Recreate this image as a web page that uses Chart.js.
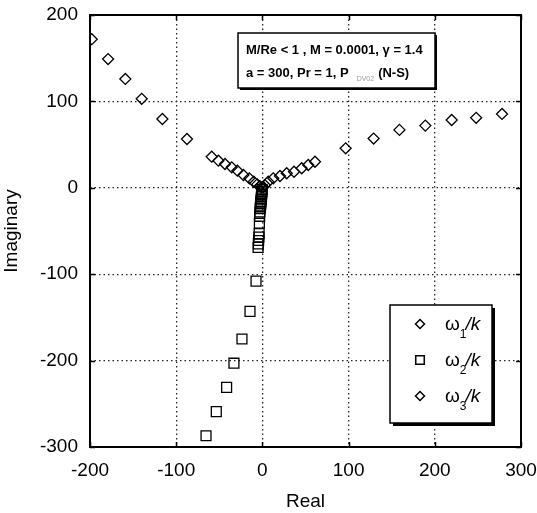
<!DOCTYPE html>
<html>
<head>
<meta charset="utf-8">
<script src="https://cdn.jsdelivr.net/npm/chart.js@4.4.0/dist/chart.umd.min.js"></script>
<style>
  html, body { margin: 0; padding: 0; background: #fff; }
</style>
</head>
<body>
<canvas id="chart" width="537" height="513"></canvas>
<script>
// omega_1/k branch (goes right)
const w1Real = [1, 3, 6.8, 12.6, 20.4, 28.2, 36.7, 45.6, 53.2, 61, 96.6, 129, 159, 189, 219.6, 248, 278];
const w1Imag = [1, 3, 7, 11, 13.7, 16.8, 18.6, 22.6, 26.4, 30.2, 45.7, 57, 67, 72, 78.5, 81, 85.5];
// omega_2/k branch (goes down)
const w2Real = [-0.3, -0.5, -0.7, -0.9, -1.1, -1.3, -1.5, -1.7, -1.9, -2.1, -2.3, -2.6, -2.9, -3.2, -3.5, -3.8, -4.1, -4.4, -4.7, -5,
  -7.4, -14.4, -23.7, -33, -41.5, -53.5, -65.4];
const w2Imag = [-2, -4, -6, -8, -10, -12, -14, -16, -18, -20, -22, -24, -28, -33, -41, -53, -57, -61, -65, -69,
  -108, -143, -175, -203, -231, -259, -287];
// omega_3/k branch (goes up-left)
const w3Real = [-1, -3, -6, -10, -15.2, -22, -29, -35.6, -43.4, -51, -58.8, -87.5, -116, -140, -159, -179, -198];
const w3Imag = [0.5, 2, 4, 7, 11, 14.8, 19.8, 23.7, 27.5, 31.4, 36, 56.5, 79.6, 103, 126, 149, 172];

const xTicks = [-200, -100, 0, 100, 200, 300];
const yTicks = [-300, -200, -100, 0, 100, 200];
const legendLabels = ['1', '2', '3'];

const FONT = 'Liberation Sans, Arial, sans-serif';

function pts(xs, ys) {
  return xs.map((x, i) => ({ x: x, y: ys[i] }));
}

const series = [
  { label: 'w1', data: pts(w1Real, w1Imag), pointStyle: 'rectRot', pointRadius: 5.5 },
  { label: 'w2', data: pts(w2Real, w2Imag), pointStyle: 'rect', pointRadius: 7 },
  { label: 'w3', data: pts(w3Real, w3Imag), pointStyle: 'rectRot', pointRadius: 5.5 }
];

// frame, inner ticks, text box and legend box
const decorations = {
  id: 'decorations',
  afterDraw(chart) {
    const ctx = chart.ctx;
    const a = chart.chartArea;
    const xs = chart.scales.x, ys = chart.scales.y;
    ctx.save();
    ctx.setLineDash([]);
    ctx.strokeStyle = '#000';
    ctx.lineWidth = 2;
    ctx.strokeRect(a.left, a.top, a.right - a.left, a.bottom - a.top);

    // ticks pointing inward
    ctx.lineWidth = 1.5;
    ctx.beginPath();
    xTicks.forEach(v => {
      const px = Math.round(xs.getPixelForValue(v)) + 0.5;
      ctx.moveTo(px, a.bottom); ctx.lineTo(px, a.bottom - 5);
      ctx.moveTo(px, a.top); ctx.lineTo(px, a.top + 5);
    });
    yTicks.forEach(v => {
      const py = Math.round(ys.getPixelForValue(v)) + 0.5;
      ctx.moveTo(a.left, py); ctx.lineTo(a.left + 5, py);
      ctx.moveTo(a.right, py); ctx.lineTo(a.right - 5, py);
    });
    ctx.stroke();

    // parameter box
    const bx = a.left + 148, by = a.top + 18, bw = 197, bh = 55;
    ctx.fillStyle = '#000';
    ctx.fillRect(bx + 2, by + 2, bw, bh);
    ctx.fillStyle = '#fff';
    ctx.fillRect(bx, by, bw, bh);
    ctx.lineWidth = 1.5;
    ctx.strokeRect(bx, by, bw, bh);
    ctx.fillStyle = '#000';
    ctx.textBaseline = 'alphabetic';
    ctx.textAlign = 'left';
    ctx.font = 'bold 13px ' + FONT;
    ctx.fillText('M/Re < 1 , M = 0.0001, \u03b3 = 1.4', bx + 8, by + 21);
    const l2 = 'a = 300, Pr = 1, P';
    ctx.fillText(l2, bx + 8, by + 44);
    let tx = bx + 8 + ctx.measureText(l2).width + 8;
    ctx.font = '7px ' + FONT;
    ctx.fillStyle = '#999';
    ctx.fillText('DV02', tx, by + 48);
    tx += ctx.measureText('DV02').width + 4;
    ctx.font = 'bold 13px ' + FONT;
    ctx.fillStyle = '#000';
    ctx.fillText('(N-S)', tx, by + 44);

    // legend box
    const lx = a.right - 131, ly = a.bottom - 142, lw = 102, lh = 118;
    ctx.fillStyle = '#000';
    ctx.fillRect(lx + 3, ly + 3, lw, lh);
    ctx.fillStyle = '#fff';
    ctx.fillRect(lx, ly, lw, lh);
    ctx.lineWidth = 1.5;
    ctx.strokeRect(lx, ly, lw, lh);
    series.forEach((s, i) => {
      const cy = ly + 19 + i * 36;
      ctx.strokeStyle = '#000';
      ctx.fillStyle = '#fff';
      Chart.helpers.drawPoint(ctx, {
        pointStyle: s.pointStyle,
        radius: s.pointStyle === 'rect' ? 6 : 4.5,
        rotation: 0,
        borderWidth: 1.3
      }, lx + 30, cy);
      ctx.fillStyle = '#000';
      ctx.font = '19px ' + FONT;
      ctx.fillText('\u03c9', lx + 55, cy + 6);
      const ww = ctx.measureText('\u03c9').width;
      ctx.font = '12px ' + FONT;
      ctx.fillText(legendLabels[i], lx + 55 + ww, cy + 14);
      const sw = ctx.measureText(legendLabels[i]).width;
      ctx.font = 'italic 19px ' + FONT;
      ctx.fillText('/k', lx + 55 + ww + sw - 1, cy + 6);
    });
    ctx.restore();
  }
};

new Chart(document.getElementById('chart'), {
  type: 'scatter',
  data: {
    datasets: series.map(s => ({
      label: s.label,
      data: s.data,
      pointStyle: s.pointStyle,
      pointRadius: s.pointRadius,
      pointBorderWidth: 1.3,
      borderColor: '#000',
      backgroundColor: 'rgba(0,0,0,0)',
      showLine: false
    }))
  },
  options: {
    responsive: false,
    animation: false,
    layout: { padding: { top: 15, right: 16, left: 0, bottom: 0 } },
    plugins: { legend: { display: false }, tooltip: { enabled: false } },
    scales: {
      x: {
        type: 'linear', min: -200, max: 300,
        afterBuildTicks: s => { s.ticks = xTicks.map(v => ({ value: v })); },
        afterFit: s => { s.height = 66; s.paddingLeft = 0; s.paddingRight = 0; },
        ticks: { color: '#000', font: { family: FONT, size: 19 }, padding: 12, maxRotation: 0 },
        grid: { color: '#222', lineWidth: 1.3, drawTicks: false },
        border: { display: false, dash: [1.5, 3] },
        title: { display: true, text: 'Real', color: '#000', font: { family: FONT, size: 19 }, padding: { top: 0, bottom: 0 } }
      },
      y: {
        type: 'linear', min: -300, max: 200,
        afterBuildTicks: s => { s.ticks = yTicks.map(v => ({ value: v })); },
        afterFit: s => { s.width = 90; s.paddingTop = 0; s.paddingBottom = 0; },
        ticks: { color: '#000', font: { family: FONT, size: 19 }, padding: 12 },
        grid: { color: '#222', lineWidth: 1.3, drawTicks: false },
        border: { display: false, dash: [1.5, 3] },
        title: { display: true, text: 'Imaginary', color: '#000', font: { family: FONT, size: 19 }, padding: { top: 0, bottom: 0 } }
      }
    }
  },
  plugins: [decorations]
});
</script>
</body>
</html>
